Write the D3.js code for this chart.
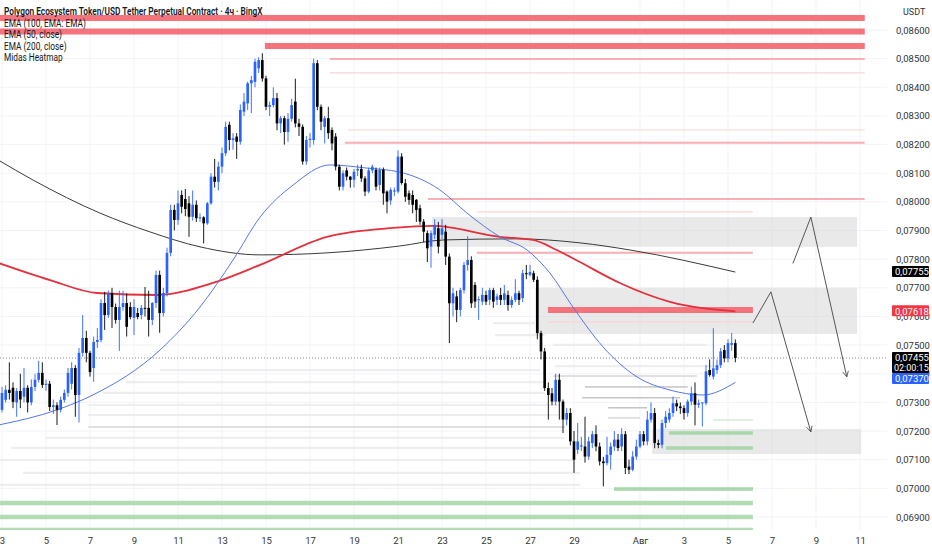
<!DOCTYPE html>
<html>
<head>
<meta charset="utf-8">
<script src="https://cdnjs.cloudflare.com/ajax/libs/d3/7.8.5/d3.min.js"></script>
<style>
body { margin: 0; background: #fff; }
text { font-family: Roboto, "Liberation Sans", sans-serif; }
</style>
</head>
<body>
<div id="chart"></div>
<script>
// 4h candles from 3 Jul, [open, high, low, close]
var candles = [
  [.07274,.07354,.07265,.07333],[.07309,.0736,.0730,.07344],[.07344,.0744,.0731,.07333],[.07351,.0737,.0728,.07302],
  [.0730,.0735,.0725,.0734],[.0734,.0740,.0728,.0731],[.0732,.0742,.0730,.07351],[.07351,.0736,.07265,.0730],
  [.0730,.0738,.0729,.07354],[.07354,.0740,.0734,.07379],[.07379,.07445,.0737,.07403],[.07403,.0744,.0735,.07361],
  [.07361,.0738,.0734,.07365],[.07365,.07375,.0727,.07284],[.07284,.0731,.0726,.0729],[.0729,.0730,.07221,.07274],
  [.07274,.0732,.07265,.07309],[.07309,.07345,.0730,.07333],[.07333,.0742,.0732,.07403],[.07365,.0744,.07345,.0742],
  [.0742,.0743,.0725,.07326],[.07326,.0749,.0723,.07473],[.07473,.07605,.0746,.07525],[.07525,.0755,.0744,.07473],
  [.07473,.0748,.0739,.07406],[.0742,.0753,.07372,.07511],[.07511,.0756,.0749,.07518],[.07518,.0766,.0751,.07647],
  [.07647,.07686,.07553,.07605],[.07605,.0769,.07595,.07682],[.07682,.0770,.0756,.07633],[.07633,.07645,.07575,.07588],
  [.07588,.0769,.0748,.07633],[.07633,.0769,.0762,.07647],[.07647,.0768,.0753,.07564],[.07633,.0765,.0759,.07598],
  [.07595,.0766,.07535,.07633],[.07612,.0763,.0759,.07598],[.07605,.0764,.0759,.0763],[.0763,.07703,.0760,.07628],
  [.0763,.0769,.0753,.07588],[.07588,.0765,.0757,.07647],[.07647,.0776,.0763,.07745],[.07745,.0776,.07543,.07612],
  [.07612,.0770,.0760,.07682],[.07682,.0784,.0767,.07822],[.07822,.0799,.0781,.07972],[.07972,.0799,.0790,.07937],
  [.07937,.0804,.0792,.07995],[.08024,.0804,.0796,.07983],[.0801,.08045,.0795,.07975],[.07995,.0802,.07878,.07948],
  [.07948,.0804,.07935,.0799],[.0799,.08005,.0793,.07943],[.07943,.0796,.0793,.07946],[.07946,.0795,.07855,.07925],
  [.07925,.0800,.0792,.07995],[.07995,.0810,.0799,.08088],[.08088,.0815,.0805,.0807],[.0807,.0814,.0804,.08123],
  [.08123,.0819,.0810,.0817],[.0817,.0828,.0816,.08262],[.08269,.0828,.0818,.08216],[.08216,.0824,.08182,.08222],
  [.08228,.0824,.0815,.0821],[.0821,.0834,.0820,.08321],[.08315,.0838,.0830,.0835],[.08344,.0842,.0832,.08414],
  [.08414,.0844,.0831,.08425],[.08419,.0850,.0840,.08489],[.08466,.08505,.0845,.08495],[.08495,.08519,.0842,.08431],
  [.08431,.0844,.0832,.08332],[.08332,.0835,.0830,.08338],[.08338,.0840,.0833,.08362],[.08362,.0838,.0825,.08274],
  [.08274,.0830,.0824,.08292],[.08292,.0830,.0820,.08244],[.08244,.0831,.0821,.0829],[.0829,.0836,.0828,.08338],
  [.0835,.0843,.0826,.08274],[.08274,.0829,.0823,.08262],[.08262,.0827,.0813,.08141],[.08141,.0823,.0813,.08216],
  [.08216,.0824,.0819,.0822],[.08216,.0850,.0820,.08484],[.08484,.08495,.0832,.08332],[.08332,.0834,.0825,.0828],
  [.08262,.0830,.08204,.08292],[.08292,.08332,.0822,.0824],[.08251,.0826,.0818,.08204],[.08228,.0824,.0811,.08123],
  [.08123,.0813,.0804,.08053],[.08053,.0811,.0804,.0810],[.0811,.0812,.08075,.08088],[.08088,.0809,.0805,.08077],
  [.08077,.08115,.0805,.08105],[.0811,.0813,.0809,.08115],[.08115,.0813,.0807,.08082],[.08082,.0809,.0802,.08036],
  [.08036,.0812,.0803,.0811],[.0811,.0813,.0810,.08123],[.08112,.0812,.0804,.08053],[.08059,.0812,.0804,.08112],
  [.08112,.0812,.0799,.0803],[.08036,.0804,.0796,.08001],[.08005,.0805,.0799,.08042],[.08036,.0805,.0802,.0804],
  [.08036,.0818,.0803,.08158],[.08158,.0817,.0806,.08066],[.08065,.0808,.0800,.08018],[.0803,.0804,.0799,.08007],
  [.08024,.0804,.0796,.0799],[.08007,.0801,.0793,.07972],[.07978,.0799,.0792,.07931],[.07931,.0794,.0786,.07896],
  [.07891,.0790,.0779,.07838],[.07844,.0790,.0777,.07891],[.07885,.0794,.0787,.0792],[.07908,.0793,.0782,.07844],
  [.07885,.0794,.0787,.07908],[.07896,.0792,.0778,.07809],[.07809,.0782,.07507,.07646],[.07646,.0770,.0760,.07681],
  [.0767,.0769,.0758,.07623],[.07623,.0770,.0760,.07692],[.07692,.0779,.0768,.0778],[.0778,.0788,.0776,.07797],
  [.07797,.0781,.0763,.07646],[.0771,.0772,.0763,.07652],[.07658,.0767,.07588,.0766],[.07652,.0770,.0764,.07675],
  [.07675,.0769,.0764,.07652],[.07658,.0770,.0764,.07692],[.07692,.0770,.0763,.07652],[.07658,.0768,.0764,.0767],
  [.07675,.0770,.0764,.07658],[.07658,.0771,.0764,.07681],[.07675,.0769,.0762,.0764],[.0764,.0767,.0763,.07658],
  [.07658,.0773,.0765,.07681],[.07681,.0769,.0764,.07658],[.07664,.07763,.0765,.07751],[.07751,.0778,.0773,.07748],
  [.07745,.0778,.0774,.07755],[.07751,.0776,.0772,.07728],[.07728,.0774,.0752,.07542],[.07542,.0755,.0745,.07478],
  [.07478,.0749,.0734,.0735],[.0735,.0737,.0724,.07326],[.07332,.0735,.0729,.07303],[.07303,.0740,.0729,.07379],
  [.07379,.0740,.0724,.07303],[.07303,.0731,.07193,.0724],[.0724,.0728,.0722,.07263],[.07263,.0728,.0715,.07164],
  [.07164,.0720,.07054,.0710],[.07135,.07228,.0712,.07164],[.07146,.0718,.0713,.0715],[.07146,.0725,.0709,.07111],
  [.07111,.0718,.0710,.07164],[.07158,.0720,.0714,.07189],[.07189,.0722,.0713,.07146],[.07146,.0716,.0708,.07094],
  [.07094,.0711,.07007,.07088],[.07088,.0718,.0708,.07117],[.07117,.0716,.07065,.07146],[.07146,.0720,.0713,.0717],
  [.0717,.0719,.0713,.07141],[.07146,.0721,.0713,.07189],[.07189,.0720,.0705,.07071],[.07076,.0710,.0705,.07065],
  [.07065,.0713,.0706,.07111],[.07111,.0717,.0710,.07146],[.07146,.0720,.0714,.07189],[.07189,.0720,.0715,.07164],
  [.07164,.0727,.0715,.0724],[.0724,.0730,.0723,.07263],[.07263,.0728,.0714,.07158],[.07158,.0717,.0714,.07152],
  [.07152,.0724,.0714,.07228],[.07228,.0727,.0721,.0725],[.0724,.0728,.0723,.07263],[.07263,.0732,.0725,.07297],
  [.07297,.0731,.0727,.07286],[.07286,.0730,.0726,.0728],[.0728,.0729,.0724,.07263],[.07263,.0731,.0725,.07303],
  [.07303,.07355,.0729,.07332],[.07332,.0737,.0722,.07292],[.07292,.0731,.0728,.07297],[.07297,.0730,.07216,.0730],
  [.07297,.0743,.0729,.07408],[.07413,.0745,.0739,.07396],[.0739,.07559,.0738,.07419],[.07413,.0745,.0740,.0743],
  [.0743,.0749,.0742,.07478],[.07483,.0750,.0744,.07454],[.07454,.0752,.0744,.07507],[.07501,.07542,.0748,.07507],
  [.07507,.0752,.0744,.07455]
];

// moving averages: [candle index, value]
var ema50 = [[-1,.07221],[15,.07274],[24.8,.07326],[43.1,.07483],[54,.07633],[63,.07797],[70.4,.07947],
  [79.4,.08059],[89.4,.08129],[99.5,.08118],[108.5,.08104],[119.4,.08042],[126.8,.07961],[135.8,.07878],
  [143.2,.07832],[149.4,.07752],[155.7,.07633],[163.9,.07494],[173.2,.07389],[182.2,.07343],[191.2,.07326],[200,.0737]];
var ema100 = [[-1,.07787],[13.1,.07727],[25.9,.07682],[42.3,.07675],[57.5,.07717],[70.4,.0778],[88.6,.07878],
  [106.6,.07909],[117.5,.07916],[135.8,.07878],[144.8,.07867],[151.3,.07832],[157.6,.0779],[168.5,.07717],
  [182.2,.07651],[200,.07618]];
var ema200 = [[-1,.08146],[8.5,.08076],[26.7,.07961],[40.4,.07895],[54,.07843],[70.4,.07815],[88.6,.07822],
  [108.5,.07846],[120.3,.07867],[140.4,.07871],[157.6,.07857],[171.3,.07832],[200,.07755]];

// heatmap levels: [price, from index, to index, strength]
var redLevels = [[.08642,-2,235.3,3],[.08595,-2,235.3,3],[.08544,71.7,235.3,3],[.08499,89.4,235.3,2],
  [.0845,89.4,235.3,1],[.08251,94.4,235.3,1],[.08206,93.5,235.3,2],[.0801,116.2,235.3,2],
  [.07965,129.5,204.8,1],[.07822,129.5,204.8,2],[.07623,148.9,204.8,3],[.07581,148.9,204.8,1]];
var greenLevels = [[.07239,193.9,204.8,1],[.07193,181.9,204.8,2],[.07141,181.1,204.8,2],[.06998,166.9,204.8,2],
  [.06949,-2,204.8,3],[.069,-2,204.8,3],[.06855,-2,204.8,3]];
var grayLevels = [[.07501,150.3,192.3,1],[.07427,150.8,195.8,1],[.07392,150.3,189.5,2],[.07354,159,187,3],
  [.07316,158.2,184.9,3],[.07281,165.3,175.9,3],[.07246,165.3,174,2],
  [.07413,43.1,146.7,1],[.07371,33.8,148,1],[.07333,27.5,148,1],[.07291,23.5,152.2,1],[.07256,23.5,152.2,1],
  [.07214,23.5,153.5,2],[.07176,12,153.5,1],[.07141,2.5,155,1],[.07099,-2,156.3,1],[.07054,5.7,157.6,1],
  [.07012,-2,157.6,1],[.07577,133.9,146.7,1],[.07535,134.4,148,1]];

// zones: [top, bottom, from index, to index]
var zones = [[.07947,.07843,117.3,233.2],[.07700,.07539,145.4,233.2],[.07207,.0712,177.3,234.3]];

// projected paths
var arrows = [
  [[215.7,.07785],[220.6,.07947],[230.4,.07389]],
  [[204.8,.07577],[209.7,.07686],[220.6,.07197]]
];

var priceTicks = [.086,.085,.084,.083,.082,.081,.080,.079,.078,.077,.076,.075,.074,.073,.072,.071,.070,.069];
var dayTicks = ["2025-07-03","2025-07-05","2025-07-07","2025-07-09","2025-07-11","2025-07-13","2025-07-15",
  "2025-07-17","2025-07-19","2025-07-21","2025-07-23","2025-07-25","2025-07-27","2025-07-29","2025-08-01",
  "2025-08-03","2025-08-05","2025-08-07","2025-08-09","2025-08-11"];
var legendLines = ["EMA (100, EMA: EMA)", "EMA (50, close)", "EMA (200, close)", "Midas Heatmap"];
var title = "Polygon Ecosystem Token/USD Tether Perpetual Contract \u00b7 4\u0447 \u00b7 BingX";
var lastPrice = .07455, countdown = "02:00:15";

var W = 932, H = 550, plotRight = 887, axisY = 530;
var startDate = new Date(2025, 6, 3, 0, 0);
function dateOf(i) { return new Date(startDate.getTime() + i * 4 * 3600 * 1000); }

var x = d3.scaleTime().domain([startDate, new Date(2025, 7, 12)]).range([2, 882]);
var y = d3.scaleLinear().domain([.069, .086]).range([517, 30]);
var step = x(dateOf(1)) - x(dateOf(0));
var fmt = function(v) { return d3.format(".5f")(v).replace(".", ","); };

var svg = d3.select("#chart").append("svg").attr("width", W).attr("height", H)
  .style("background", "#fff");

var plot = svg.append("g");
svg.append("clipPath").attr("id", "clip").append("rect")
  .attr("x", 0).attr("y", 0).attr("width", plotRight).attr("height", axisY);
plot.attr("clip-path", "url(#clip)");

// grid
var days = dayTicks.map(function(s) { var p = s.split("-"); return new Date(+p[0], +p[1] - 1, +p[2]); });
plot.selectAll(".vgrid").data(days).enter().append("line")
  .attr("x1", function(d) { return x(d); }).attr("x2", function(d) { return x(d); })
  .attr("y1", 0).attr("y2", axisY).attr("stroke", "#f0f3fa");
plot.selectAll(".hgrid").data(priceTicks).enter().append("line")
  .attr("x1", 0).attr("x2", plotRight).attr("y1", function(d) { return y(d); }).attr("y2", function(d) { return y(d); })
  .attr("stroke", "#f0f3fa");

// zones
plot.selectAll(".zone").data(zones).enter().append("rect")
  .attr("x", function(d) { return x(dateOf(d[2])); })
  .attr("y", function(d) { return y(d[0]); })
  .attr("width", function(d) { return x(dateOf(d[3])) - x(dateOf(d[2])); })
  .attr("height", function(d) { return y(d[1]) - y(d[0]); })
  .attr("fill", "#d4d4d4").attr("opacity", 0.5);

// heatmap levels
function drawLevels(data, widths, colors) {
  plot.append("g").selectAll("line").data(data).enter().append("line")
    .attr("x1", function(d) { return x(dateOf(d[1])); })
    .attr("x2", function(d) { return x(dateOf(d[2])); })
    .attr("y1", function(d) { return y(d[0]); }).attr("y2", function(d) { return y(d[0]); })
    .attr("stroke-width", function(d) { return widths[d[3] - 1]; })
    .attr("stroke", function(d) { return colors[d[3] - 1]; });
}
drawLevels(grayLevels, [2.2, 2, 1], ["#eeeeee", "#e0e0e0", "#a8a8a8"]);
drawLevels(redLevels, [1.2, 2, 6], ["#fbd3d5", "#f8aeb2", "#f5737d"]);
drawLevels(greenLevels, [1.5, 3.5, 4.5], ["#d5ecd6", "#a9d6ab", "#b3dcb5"]);

// current price line
plot.append("line").attr("x1", 0).attr("x2", plotRight)
  .attr("y1", y(lastPrice)).attr("y2", y(lastPrice))
  .attr("stroke", "#888").attr("stroke-dasharray", "1,2");

// moving averages
var line = d3.line().x(function(d) { return x(dateOf(d[0])); }).y(function(d) { return y(d[1]); })
  .curve(d3.curveMonotoneX);
plot.append("path").datum(ema200).attr("d", line).attr("fill", "none").attr("stroke", "#3a3a3a").attr("stroke-width", 1);
plot.append("path").datum(ema100).attr("d", line).attr("fill", "none").attr("stroke", "#e4303c").attr("stroke-width", 1.8);
plot.append("path").datum(ema50).attr("d", line).attr("fill", "none").attr("stroke", "#5677e6").attr("stroke-width", 1);

// candles
var cg = plot.append("g").selectAll("g").data(candles).enter().append("g")
  .attr("fill", function(d) { return d[3] >= d[0] ? "#2962ff" : "#000"; })
  .attr("stroke", function(d) { return d[3] >= d[0] ? "#2962ff" : "#000"; });
cg.append("line")
  .attr("x1", function(d, i) { return x(dateOf(i)); }).attr("x2", function(d, i) { return x(dateOf(i)); })
  .attr("y1", function(d) { return y(d[1]); }).attr("y2", function(d) { return y(d[2]); })
  .attr("stroke-width", 0.9);
cg.append("rect")
  .attr("x", function(d, i) { return x(dateOf(i)) - step * 0.36; })
  .attr("width", step * 0.72)
  .attr("y", function(d) { return y(Math.max(d[0], d[3])); })
  .attr("height", function(d) { return Math.max(1, Math.abs(y(d[0]) - y(d[3]))); })
  .attr("stroke", "none");

// arrows
svg.append("defs").append("marker").attr("id", "head")
  .attr("viewBox", "0 0 10 10").attr("refX", 9).attr("refY", 5)
  .attr("markerWidth", 7).attr("markerHeight", 7).attr("orient", "auto")
  .append("path").attr("d", "M1,1 L9,5 L1,9").attr("fill", "none").attr("stroke", "#555").attr("stroke-width", 1.2);
var aline = d3.line().x(function(d) { return x(dateOf(d[0])); }).y(function(d) { return y(d[1]); });
plot.selectAll(".arrow").data(arrows).enter().append("path")
  .attr("d", aline).attr("fill", "none").attr("stroke", "#555").attr("stroke-width", 1)
  .attr("marker-end", "url(#head)");

// price axis
var yAxis = svg.append("g").attr("transform", "translate(" + 893 + ",0)")
  .call(d3.axisRight(y).tickValues(priceTicks).tickSize(0).tickPadding(3).tickFormat(fmt));
yAxis.select(".domain").remove();
yAxis.selectAll("text").attr("fill", "#333").style("font-size", "9.5px").style("font-family", "Roboto, sans-serif");

svg.append("text").attr("x", 903).attr("y", 15).attr("fill", "#333").style("font-size", "9px").text("USDT");

// time axis
var xAxis = svg.append("g").attr("transform", "translate(0," + 534 + ")")
  .call(d3.axisBottom(x).tickValues(days).tickSize(0).tickPadding(3)
    .tickFormat(function(d) { return d.getDate() === 1 ? "\u0410\u0432\u0433" : d.getDate(); }));
xAxis.select(".domain").remove();
xAxis.selectAll("text").attr("fill", "#333").style("font-size", "9.5px").style("font-family", "Roboto, sans-serif");

// price labels
function priceLabel(v, cy, bg, extra) {
  var h = extra ? 21 : 11;
  var g = svg.append("g");
  g.append("rect").attr("x", 892).attr("y", cy - 6).attr("width", 37).attr("height", h).attr("fill", bg).attr("rx", 1);
  g.append("text").attr("x", 895).attr("y", cy + 3.3).attr("fill", "#fff").style("font-size", "9.5px").text(fmt(v));
  if (extra) g.append("text").attr("x", 894).attr("y", cy + 13).attr("fill", "#fff").style("font-size", "9px").text(extra);
}
priceLabel(ema200[ema200.length - 1][1], y(ema200[ema200.length - 1][1]), "#000");
priceLabel(ema100[ema100.length - 1][1], y(ema100[ema100.length - 1][1]), "#f23645");
priceLabel(lastPrice, y(lastPrice), "#000", countdown);
priceLabel(ema50[ema50.length - 1][1], y(lastPrice) + 21, "#2962ff");

// legend, squeezed to the narrow platform font
var legend = svg.append("g").attr("transform", "translate(4,0) scale(0.79,1)");
legend.append("text").attr("x", 0).attr("y", 15).attr("fill", "#131722")
  .style("font-size", "10.5px").style("font-weight", 600).text(title);
legend.selectAll(".leg").data(legendLines).enter().append("text")
  .attr("x", 0).attr("y", function(d, i) { return 27 + i * 11.5; })
  .attr("fill", "#131722").style("font-size", "10.5px").text(function(d) { return d; });
</script>
</body>
</html>
